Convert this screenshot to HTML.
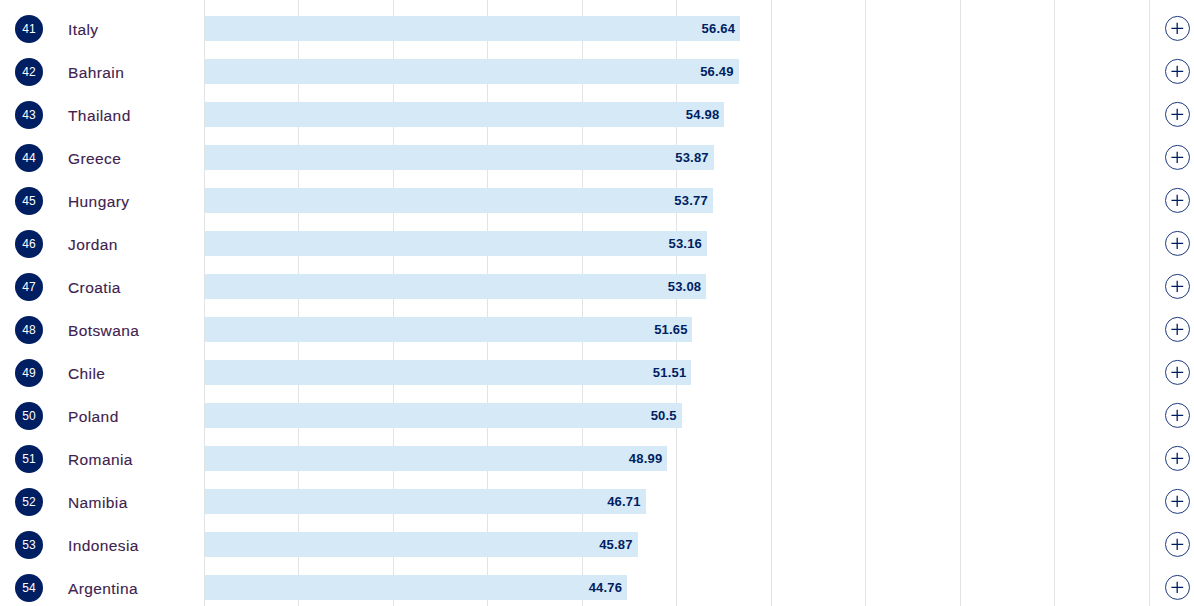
<!DOCTYPE html><html><head><meta charset="utf-8"><style>
*{margin:0;padding:0;box-sizing:border-box}
html,body{width:1194px;height:606px;overflow:hidden;background:#fff}
body{position:relative;font-family:"Liberation Sans",sans-serif}
.g{position:absolute;top:0;width:1px;height:606px;background:#e1e4e5}
.row{position:absolute;left:0;width:1194px;height:43px}
.c{position:absolute;left:15px;top:15px;width:28px;height:28px;border-radius:50%;background:#001e62;color:#fff;font-size:12px;line-height:28px;text-align:center}
.n{position:absolute;left:68px;top:16.5px;height:25px;line-height:25px;font-size:15.5px;color:#40224f;letter-spacing:0.4px;white-space:nowrap;-webkit-text-stroke:0.12px #40224f}
.b{position:absolute;left:205px;top:16px;height:25px;background:#d6e9f6}
.v{position:absolute;right:4.8px;top:0px;height:25px;line-height:25px;font-size:13px;font-weight:bold;color:#001e62;letter-spacing:0.2px;white-space:nowrap}
.p{position:absolute;left:1164px;top:15px}
</style></head><body>
<div class="g" style="left:204px"></div>
<div class="g" style="left:298px"></div>
<div class="g" style="left:393px"></div>
<div class="g" style="left:487px"></div>
<div class="g" style="left:582px"></div>
<div class="g" style="left:676px"></div>
<div class="g" style="left:771px"></div>
<div class="g" style="left:865px"></div>
<div class="g" style="left:960px"></div>
<div class="g" style="left:1054px"></div>
<div class="g" style="left:1149px"></div>
<div class="row" style="top:0px"><div class="c">41</div><div class="n">Italy</div><div class="b" style="width:534.95px"><span class="v">56.64</span></div><svg class="p" width="27" height="27" viewBox="0 0 27 27"><circle cx="13.5" cy="13.4" r="12" fill="none" stroke="#1c3a7c" stroke-width="1"/><path d="M7.4 13.4H19.2M13.2 7.7V19" stroke="#001e62" stroke-width="1.3"/></svg></div>
<div class="row" style="top:43px"><div class="c">42</div><div class="n">Bahrain</div><div class="b" style="width:533.52px"><span class="v">56.49</span></div><svg class="p" width="27" height="27" viewBox="0 0 27 27"><circle cx="13.5" cy="13.4" r="12" fill="none" stroke="#1c3a7c" stroke-width="1"/><path d="M7.4 13.4H19.2M13.2 7.7V19" stroke="#001e62" stroke-width="1.3"/></svg></div>
<div class="row" style="top:86px"><div class="c">43</div><div class="n">Thailand</div><div class="b" style="width:519.16px"><span class="v">54.98</span></div><svg class="p" width="27" height="27" viewBox="0 0 27 27"><circle cx="13.5" cy="13.4" r="12" fill="none" stroke="#1c3a7c" stroke-width="1"/><path d="M7.4 13.4H19.2M13.2 7.7V19" stroke="#001e62" stroke-width="1.3"/></svg></div>
<div class="row" style="top:129px"><div class="c">44</div><div class="n">Greece</div><div class="b" style="width:508.60px"><span class="v">53.87</span></div><svg class="p" width="27" height="27" viewBox="0 0 27 27"><circle cx="13.5" cy="13.4" r="12" fill="none" stroke="#1c3a7c" stroke-width="1"/><path d="M7.4 13.4H19.2M13.2 7.7V19" stroke="#001e62" stroke-width="1.3"/></svg></div>
<div class="row" style="top:172px"><div class="c">45</div><div class="n">Hungary</div><div class="b" style="width:507.65px"><span class="v">53.77</span></div><svg class="p" width="27" height="27" viewBox="0 0 27 27"><circle cx="13.5" cy="13.4" r="12" fill="none" stroke="#1c3a7c" stroke-width="1"/><path d="M7.4 13.4H19.2M13.2 7.7V19" stroke="#001e62" stroke-width="1.3"/></svg></div>
<div class="row" style="top:215px"><div class="c">46</div><div class="n">Jordan</div><div class="b" style="width:501.85px"><span class="v">53.16</span></div><svg class="p" width="27" height="27" viewBox="0 0 27 27"><circle cx="13.5" cy="13.4" r="12" fill="none" stroke="#1c3a7c" stroke-width="1"/><path d="M7.4 13.4H19.2M13.2 7.7V19" stroke="#001e62" stroke-width="1.3"/></svg></div>
<div class="row" style="top:258px"><div class="c">47</div><div class="n">Croatia</div><div class="b" style="width:501.09px"><span class="v">53.08</span></div><svg class="p" width="27" height="27" viewBox="0 0 27 27"><circle cx="13.5" cy="13.4" r="12" fill="none" stroke="#1c3a7c" stroke-width="1"/><path d="M7.4 13.4H19.2M13.2 7.7V19" stroke="#001e62" stroke-width="1.3"/></svg></div>
<div class="row" style="top:301px"><div class="c">48</div><div class="n">Botswana</div><div class="b" style="width:487.49px"><span class="v">51.65</span></div><svg class="p" width="27" height="27" viewBox="0 0 27 27"><circle cx="13.5" cy="13.4" r="12" fill="none" stroke="#1c3a7c" stroke-width="1"/><path d="M7.4 13.4H19.2M13.2 7.7V19" stroke="#001e62" stroke-width="1.3"/></svg></div>
<div class="row" style="top:344px"><div class="c">49</div><div class="n">Chile</div><div class="b" style="width:486.16px"><span class="v">51.51</span></div><svg class="p" width="27" height="27" viewBox="0 0 27 27"><circle cx="13.5" cy="13.4" r="12" fill="none" stroke="#1c3a7c" stroke-width="1"/><path d="M7.4 13.4H19.2M13.2 7.7V19" stroke="#001e62" stroke-width="1.3"/></svg></div>
<div class="row" style="top:387px"><div class="c">50</div><div class="n">Poland</div><div class="b" style="width:476.56px"><span class="v">50.5</span></div><svg class="p" width="27" height="27" viewBox="0 0 27 27"><circle cx="13.5" cy="13.4" r="12" fill="none" stroke="#1c3a7c" stroke-width="1"/><path d="M7.4 13.4H19.2M13.2 7.7V19" stroke="#001e62" stroke-width="1.3"/></svg></div>
<div class="row" style="top:430px"><div class="c">51</div><div class="n">Romania</div><div class="b" style="width:462.19px"><span class="v">48.99</span></div><svg class="p" width="27" height="27" viewBox="0 0 27 27"><circle cx="13.5" cy="13.4" r="12" fill="none" stroke="#1c3a7c" stroke-width="1"/><path d="M7.4 13.4H19.2M13.2 7.7V19" stroke="#001e62" stroke-width="1.3"/></svg></div>
<div class="row" style="top:473px"><div class="c">52</div><div class="n">Namibia</div><div class="b" style="width:440.51px"><span class="v">46.71</span></div><svg class="p" width="27" height="27" viewBox="0 0 27 27"><circle cx="13.5" cy="13.4" r="12" fill="none" stroke="#1c3a7c" stroke-width="1"/><path d="M7.4 13.4H19.2M13.2 7.7V19" stroke="#001e62" stroke-width="1.3"/></svg></div>
<div class="row" style="top:516px"><div class="c">53</div><div class="n">Indonesia</div><div class="b" style="width:432.52px"><span class="v">45.87</span></div><svg class="p" width="27" height="27" viewBox="0 0 27 27"><circle cx="13.5" cy="13.4" r="12" fill="none" stroke="#1c3a7c" stroke-width="1"/><path d="M7.4 13.4H19.2M13.2 7.7V19" stroke="#001e62" stroke-width="1.3"/></svg></div>
<div class="row" style="top:559px"><div class="c">54</div><div class="n">Argentina</div><div class="b" style="width:421.97px"><span class="v">44.76</span></div><svg class="p" width="27" height="27" viewBox="0 0 27 27"><circle cx="13.5" cy="13.4" r="12" fill="none" stroke="#1c3a7c" stroke-width="1"/><path d="M7.4 13.4H19.2M13.2 7.7V19" stroke="#001e62" stroke-width="1.3"/></svg></div>
</body></html>
